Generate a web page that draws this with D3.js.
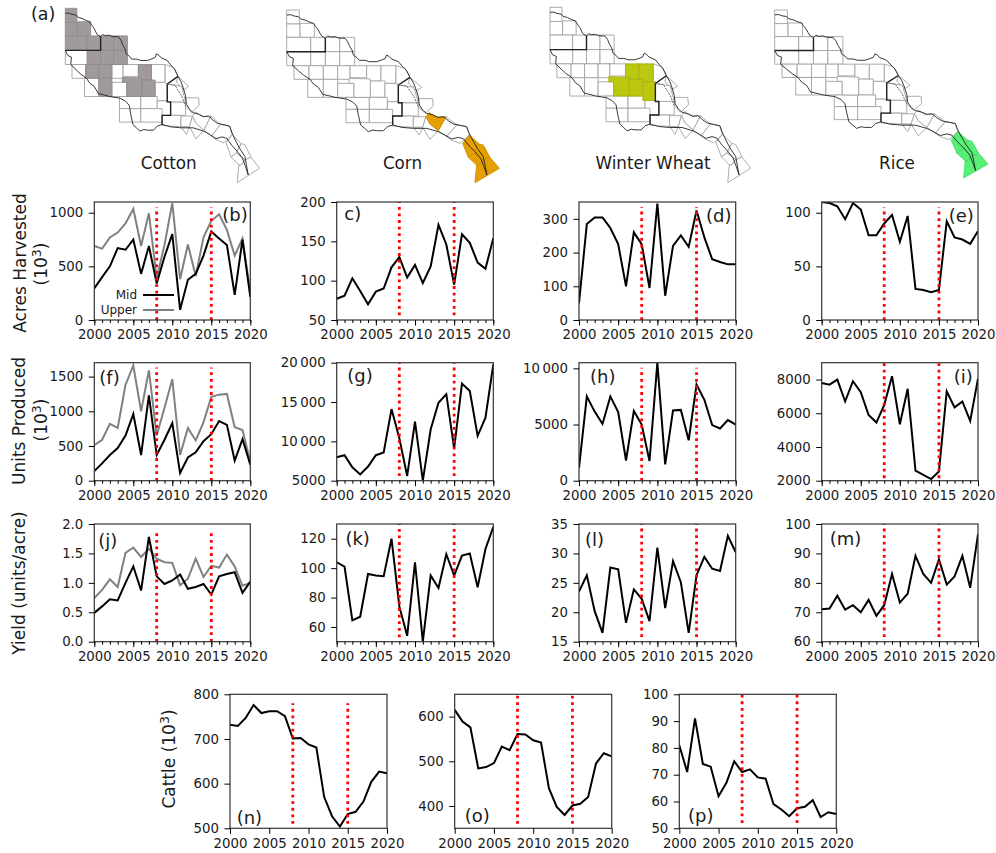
<!DOCTYPE html>
<html>
<head>
<meta charset="utf-8">
<script src="https://cdn.jsdelivr.net/npm/d3@7"></script>
<style>
  html, body { margin: 0; padding: 0; background: #fff; }
  svg { display: block; }
  text { font-family: "DejaVu Sans", sans-serif; fill: #1a1a1a; }
</style>
</head>
<body>
<script>
var years = d3.range(2000, 2021);
var yearTicks = [2000, 2005, 2010, 2015, 2020];
var eventYears = [2008, 2015];

// values
var cottonAcresMid = [295, 400, 500, 670, 655, 750, 430, 690, 340, 590, 800, 95, 375, 430, 600, 825, 760, 700, 235, 750, 215];
var cottonAcresUpper = [690, 665, 770, 815, 900, 1035, 690, 995, 390, 700, 1090, 380, 705, 410, 770, 925, 985, 840, 600, 760, 260];
var cornAcres = [77, 81, 103, 87, 70, 86, 90, 117, 130, 104, 120, 97, 118, 171, 146, 95, 159, 148, 123, 115, 154];
var wheatAcres = [50, 285, 304, 304, 273, 225, 100, 260, 225, 95, 345, 72, 220, 251, 217, 325, 245, 180, 172, 165, 165];
var riceAcres = [110, 109, 106, 94, 109, 103, 79, 79, 90, 98, 73, 97, 29, 28, 26, 28, 92, 77, 75, 71, 83];

var cottonUnitsMid = [140, 250, 370, 470, 650, 960, 370, 1230, 370, 590, 830, 110, 335, 410, 570, 670, 860, 805, 290, 600, 230];
var cottonUnitsUpper = [510, 590, 820, 760, 1380, 1660, 1000, 1590, 650, 1050, 1460, 370, 760, 580, 840, 1210, 1240, 1250, 770, 730, 270];
var cornUnits = [7980, 8240, 6700, 5800, 6800, 8240, 8580, 14100, 10400, 5600, 12500, 5000, 11500, 14900, 16000, 9100, 17350, 16400, 10700, 13000, 19800];
var wheatUnits = [1150, 7500, 6150, 5050, 7500, 6100, 1800, 6200, 5000, 1750, 10500, 1450, 6250, 6300, 3600, 8550, 7200, 4950, 4650, 5400, 5000];
var riceUnits = [7800, 7700, 8000, 6700, 7900, 7250, 5900, 5450, 6500, 8200, 5350, 7450, 2600, 2350, 2100, 2550, 7300, 6350, 6700, 5550, 8050];

var cottonYieldMid = [0.49, 0.6, 0.72, 0.7, 1.0, 1.28, 0.87, 1.78, 1.11, 0.98, 1.04, 1.14, 0.9, 0.93, 0.98, 0.8, 1.11, 1.15, 1.18, 0.83, 1.02];
var cottonYieldUpper = [0.74, 0.88, 1.06, 0.93, 1.51, 1.6, 1.44, 1.58, 1.41, 1.35, 1.34, 0.96, 1.07, 1.41, 1.1, 1.29, 1.26, 1.48, 1.28, 0.95, 1.0];
var cornYield = [104, 101, 64.5, 67, 96, 95, 94.5, 120, 74, 54, 104, 50, 95, 86.5, 109.5, 95, 108.5, 110, 87, 113, 128];
var wheatYield = [23.5, 26.3, 20.2, 16.5, 27.6, 27.3, 18.2, 23.9, 22.3, 18.5, 31, 20.7, 28.7, 25.1, 16.5, 26.3, 29.4, 27.4, 27, 33, 30.2];
var riceYield = [71, 71.3, 75.6, 70.9, 72.4, 70, 74.2, 68.8, 72.4, 83, 73.3, 76.3, 89.2, 83, 80, 88, 79.4, 82.2, 89.2, 78.3, 96.5];

var cattleN = [732, 729, 747, 776, 758, 762, 762, 751, 701, 702, 688, 681, 570, 527, 504, 532, 537, 560, 604, 627, 623];
var cattleO = [615, 589, 576, 484, 487, 496, 533, 525, 561, 560, 547, 542, 440, 398, 380, 401, 405, 420, 495, 518, 511];
var cattleP = [81, 71, 91, 74, 73, 62, 67, 75, 71, 72, 69, 68.5, 59, 57, 54.5, 57.5, 58, 60.5, 54.2, 56, 55.3];

// county outlines, map units
var mapRects = [
  [50, 30, 88, 72], [50, 72, 90, 112], [90, 70, 133, 112],
  [50, 112, 122, 155], [122, 112, 166, 155], [166, 112, 209, 155], [209, 112, 254, 155],
  [50, 155, 122, 197], [122, 155, 166, 197], [166, 155, 209, 197], [209, 155, 254, 197],
  [72, 197, 117, 238], [117, 197, 160, 238], [160, 197, 203, 238], [203, 197, 240, 238],
  [240, 197, 290, 233], [290, 197, 333, 243], [333, 197, 378, 250],
  [113, 238, 160, 292], [160, 238, 203, 292], [203, 250, 252, 292], [301, 243, 345, 292], [345, 250, 385, 305],
  [228, 292, 298, 328], [298, 292, 352, 328], [352, 305, 396, 348],
  [228, 328, 298, 368], [298, 328, 368, 368], [396, 308, 445, 348]
];
var mapPolys = [
  [[237, 235], [301, 237], [301, 292], [252, 292], [252, 250], [237, 250]],
  [[378, 197], [405, 205], [420, 232], [385, 255], [378, 250]],
  [[420, 232], [455, 262], [440, 272], [415, 250]],
  [[385, 255], [432, 262], [445, 308], [385, 308]],
  [[445, 296], [488, 296], [490, 318], [465, 340], [445, 320]],
  [[368, 348], [430, 348], [430, 382], [368, 378]],
  [[430, 350], [468, 350], [458, 382], [430, 382]],
  [[430, 382], [458, 382], [448, 405]],
  [[458, 382], [468, 350], [480, 372], [505, 392], [480, 418]],
  [[505, 392], [528, 350], [560, 375], [530, 410]],
  [[530, 410], [560, 375], [590, 380], [598, 405], [570, 430], [545, 420]],
  [[468, 350], [478, 338], [500, 352], [528, 350], [505, 392], [480, 372]],
  [[578, 430], [598, 405], [628, 432], [612, 460], [595, 472]],
  [[628, 432], [640, 435], [660, 472], [640, 480], [612, 460]],
  [[595, 472], [612, 460], [640, 480], [628, 495], [620, 495]],
  [[620, 495], [628, 495], [640, 480], [660, 472], [688, 505], [615, 548]]
];
var boundaryNorth = [[50, 45], [62, 44], [72, 48], [85, 50], [92, 57], [105, 60], [118, 66], [130, 70], [137, 80], [145, 90], [150, 100], [155, 108], [166, 115], [173, 108], [182, 111], [195, 110], [205, 114], [225, 115], [233, 125], [238, 137], [246, 150], [250, 165], [260, 172], [268, 181], [285, 181], [298, 185], [320, 185], [335, 180], [345, 176], [350, 165], [358, 170], [365, 177], [385, 185], [398, 200], [410, 212], [420, 232], [430, 248], [437, 265], [445, 290], [448, 315], [458, 330], [470, 340], [490, 345], [505, 352], [520, 350], [535, 362], [550, 372], [572, 376], [590, 380], [597, 398], [605, 415], [622, 445], [640, 470], [645, 495], [651, 525]];
var boundarySouth = [[50, 155], [58, 170], [70, 175], [68, 197], [85, 212], [100, 225], [120, 238], [130, 252], [145, 262], [158, 283], [180, 288], [195, 292], [230, 297], [248, 306], [260, 318], [265, 345], [272, 375], [283, 384], [295, 395], [308, 390], [320, 392], [340, 392], [352, 380], [368, 375], [395, 382], [430, 385], [470, 385], [505, 395], [525, 405], [545, 417], [565, 412], [580, 416], [598, 438], [615, 455], [632, 475], [642, 500], [651, 525]];
var reachUpper = [[50, 155], [166, 155], [166, 115]];
var reachLower = [[420, 232], [385, 255], [385, 308], [396, 308], [396, 348], [368, 348], [368, 375]];
var reachBranch = [[385, 255], [410, 258], [432, 290], [445, 320]];

var cropNames = ["Cotton", "Corn", "Winter Wheat", "Rice"];
var cropColors = ["#A09A9B", "#E69F00", "#BCC70F", "#55F075"];
var cottonRects = [0, 1, 2, 3, 4, 5, 6, 8, 9, 10, 12, 13, 16, 19, 21];
var cottonPolys = [0];
var cornRects = [];
var cornPolys = [11, 12, 13, 14, 15];
var wheatRects = [16, 17, 21, 22];
var wheatPolys = [0];
var riceRects = [];
var ricePolys = [12, 13, 14, 15];

var W = 996, H = 853;
var svg = d3.select("body").append("svg").attr("width", W).attr("height", H);
var lineGen = d3.line();

function drawMap(box, crop, rects, polys, labelX) {
  var mx = d3.scaleLinear().domain([50, 688]).range([box[0], box[1]]);
  var my = d3.scaleLinear().domain([30, 548]).range([box[2], box[3]]);
  var g = svg.append("g");
  function toPath(pts) {
    return lineGen(pts.map(function (p) { return [mx(p[0]), my(p[1])]; }));
  }
  function rectPts(r) {
    return [[r[0], r[1]], [r[2], r[1]], [r[2], r[3]], [r[0], r[3]]];
  }
  var cells = mapRects.map(function (r, i) { return { pts: rectPts(r), on: rects.indexOf(i) >= 0 }; })
    .concat(mapPolys.map(function (p, i) { return { pts: p, on: polys.indexOf(i) >= 0 }; }));
  cells.sort(function (a, b) { return a.on - b.on; });
  g.selectAll("path.cell").data(cells).enter().append("path")
    .attr("class", "cell")
    .attr("d", function (d) { return toPath(d.pts) + "Z"; })
    .attr("fill", function (d) { return d.on ? cropColors[crop] : "#fff"; })
    .attr("stroke", function (d) { return d.on ? d3.color(cropColors[crop]).darker(0.3) : "#a3a3a3"; })
    .attr("stroke-width", 0.9);
  [boundaryNorth, boundarySouth].forEach(function (b) {
    g.append("path").attr("d", toPath(b)).attr("fill", "none").attr("stroke", "#222").attr("stroke-width", 0.9);
  });
  [reachUpper, reachLower].forEach(function (b) {
    g.append("path").attr("d", toPath(b)).attr("fill", "none").attr("stroke", "#222").attr("stroke-width", 1.4);
  });
  g.append("path").attr("d", toPath(reachBranch)).attr("fill", "none").attr("stroke", "#666")
    .attr("stroke-width", 1).attr("stroke-dasharray", "2,1");
  svg.append("text").attr("x", labelX).attr("y", 169).attr("text-anchor", "middle")
    .style("font-size", "16.8px").text(cropNames[crop]);
}

drawMap([65.3, 259.5, 8.3, 182.7], 0, cottonRects, cottonPolys, 168.7);
drawMap([286.7, 499.3, 10, 182.7], 1, cornRects, cornPolys, 402.5);
drawMap([550, 750.7, 7.3, 182.7], 2, wheatRects, wheatPolys, 653);
drawMap([774.7, 988, 10, 178], 3, riceRects, ricePolys, 897);

svg.append("text").attr("x", 31).attr("y", 20).style("font-size", "17.5px").text("(a)");

var colX = [[94.3, 250.3], [336.7, 493.3], [579, 735.7], [821.7, 978]];
var rowY = [[202, 320], [362.7, 480.7], [524, 641.7]];
var lastColX = [[230, 387], [454.7, 611.7], [679.3, 836.3]];
var lastRowY = [694.3, 828.3];

var clipId = 0;
function fmtThin(v) {
  return v >= 10000 ? d3.format("d")(Math.floor(v / 1000)) + "\u2009" + d3.format("03d")(v % 1000) : String(v);
}

function panel(p) {
  var x = d3.scaleLinear().domain([2000, 2020]).range(p.xr);
  var y = d3.scaleLinear().domain(p.dom).range([p.yr[1], p.yr[0]]);
  var g = svg.append("g");
  var id = "clip" + (clipId++);
  g.append("clipPath").attr("id", id).append("rect")
    .attr("x", p.xr[0]).attr("y", p.yr[0])
    .attr("width", p.xr[1] - p.xr[0]).attr("height", p.yr[1] - p.yr[0]);

  var line = d3.line().x(function (d, i) { return x(years[i]); }).y(function (d) { return y(d); });
  var plot = g.append("g").attr("clip-path", "url(#" + id + ")");
  if (p.upper) {
    plot.append("path").attr("d", line(p.upper)).attr("fill", "none")
      .attr("stroke", "#808080").attr("stroke-width", 2);
  }
  plot.append("path").attr("d", line(p.mid)).attr("fill", "none")
    .attr("stroke", "#000").attr("stroke-width", 2);
  plot.selectAll("line.ev").data(eventYears).enter().append("line")
    .attr("class", "ev")
    .attr("x1", function (d) { return x(d); }).attr("x2", function (d) { return x(d); })
    .attr("y1", y(p.span[0])).attr("y2", y(p.span[1]))
    .attr("stroke", "#ff0000").attr("stroke-width", 2.8).attr("stroke-dasharray", "2.8,3.8");

  // spines
  g.append("rect").attr("x", p.xr[0]).attr("y", p.yr[0])
    .attr("width", p.xr[1] - p.xr[0]).attr("height", p.yr[1] - p.yr[0])
    .attr("fill", "none").attr("stroke", "#333").attr("stroke-width", 1.2);

  var ax = g.append("g").attr("transform", "translate(0," + p.yr[1] + ")")
    .call(d3.axisBottom(x).tickValues(yearTicks).tickFormat(d3.format("d")).tickSize(5.5).tickPadding(4.5));
  ax.select(".domain").remove();
  ax.selectAll("text").style("font-size", "13.3px").attr("fill", "#1a1a1a");
  if (p.minor) {
    var mn = g.append("g").attr("transform", "translate(0," + p.yr[1] + ")")
      .call(d3.axisBottom(x).tickValues(years).tickFormat("").tickSize(3));
    mn.select(".domain").remove();
  }

  var ay = g.append("g").attr("transform", "translate(" + p.xr[0] + ",0)")
    .call(d3.axisLeft(y).tickValues(p.ticks).tickFormat(p.fmt || fmtThin).tickSize(5.5).tickPadding(5.5));
  ay.select(".domain").remove();
  ay.selectAll("text").style("font-size", "13.3px").attr("fill", "#1a1a1a");

  g.append("text").attr("x", p.xr[0] + p.lab[1]).attr("y", p.yr[0] + p.lab[2])
    .style("font-size", "18px").text(p.lab[0]);
}

var fmt1 = d3.format(".1f");

panel({ xr: colX[0], yr: rowY[0], dom: [0, 1100], ticks: [0, 500, 1000], mid: cottonAcresMid, upper: cottonAcresUpper, span: [0, 1050], lab: ["(b)", 128, 19], minor: true });
panel({ xr: colX[1], yr: rowY[0], dom: [50, 200], ticks: [50, 100, 150, 200], mid: cornAcres, span: [56, 200], lab: ["c)", 7.6, 18], minor: true });
panel({ xr: colX[2], yr: rowY[0], dom: [0, 350], ticks: [0, 100, 200, 300], mid: wheatAcres, span: [0, 335], lab: ["(d)", 127, 20], minor: true });
panel({ xr: colX[3], yr: rowY[0], dom: [0, 110], ticks: [0, 50, 100], mid: riceAcres, span: [0, 105], lab: ["(e)", 127, 20], minor: true });

panel({ xr: colX[0], yr: rowY[1], dom: [0, 1700], ticks: [0, 500, 1000, 1500], mid: cottonUnitsMid, upper: cottonUnitsUpper, span: [0, 1630], lab: ["(f)", 5, 21], minor: true });
panel({ xr: colX[1], yr: rowY[1], dom: [5000, 20000], ticks: [5000, 10000, 15000, 20000], mid: cornUnits, span: [5600, 20000], lab: ["(g)", 10.6, 19], minor: true });
panel({ xr: colX[2], yr: rowY[1], dom: [0, 10500], ticks: [0, 5000, 10000], mid: wheatUnits, span: [0, 10050], lab: ["(h)", 11, 20], minor: true });
panel({ xr: colX[3], yr: rowY[1], dom: [2000, 9000], ticks: [2000, 4000, 6000, 8000], mid: riceUnits, span: [2150, 9000], lab: ["(i)", 132, 20], minor: true });

panel({ xr: colX[0], yr: rowY[2], dom: [0, 2], ticks: [0, 0.5, 1, 1.5, 2], fmt: fmt1, mid: cottonYieldMid, upper: cottonYieldUpper, span: [0, 1.9], lab: ["(j)", 4, 23], minor: true });
panel({ xr: colX[1], yr: rowY[2], dom: [50, 130], ticks: [60, 80, 100, 120], mid: cornYield, span: [53, 130], lab: ["(k)", 8.7, 21], minor: true });
panel({ xr: colX[2], yr: rowY[2], dom: [15, 35], ticks: [15, 20, 25, 30, 35], mid: wheatYield, span: [15.8, 35], lab: ["(l)", 6, 22], minor: true });
panel({ xr: colX[3], yr: rowY[2], dom: [60, 100], ticks: [60, 70, 80, 90, 100], mid: riceYield, span: [61.6, 100], lab: ["(m)", 8, 21], minor: true });

panel({ xr: lastColX[0], yr: lastRowY, dom: [500, 800], ticks: [500, 600, 700, 800], mid: cattleN, span: [510, 780], lab: ["(n)", 6.7, 130] });
panel({ xr: lastColX[1], yr: lastRowY, dom: [350, 650], ticks: [400, 500, 600], mid: cattleO, span: [360, 650], lab: ["(o)", 10, 128] });
panel({ xr: lastColX[2], yr: lastRowY, dom: [50, 100], ticks: [50, 60, 70, 80, 90, 100], mid: cattleP, span: [52, 100], lab: ["(p)", 8.7, 128] });

// axis titles
function vText(cx, cy, size) {
  return svg.append("text").attr("transform", "translate(" + cx + "," + cy + ") rotate(-90)")
    .attr("text-anchor", "middle").style("font-size", size + "px");
}
function addPow(t) {
  t.append("tspan").text("(10");
  t.append("tspan").attr("dy", -6.5).style("font-size", "12.5px").text("3");
  t.append("tspan").attr("dy", 6.5).text(")");
}
vText(26, 263, 17).text("Acres Harvested");
addPow(vText(47, 264, 17));
vText(25, 421, 17).text("Units Produced");
addPow(vText(47, 420, 17));
vText(25, 583, 17).text("Yield (units/acre)");
addPow(vText(175, 759, 17).text("Cattle "));

// legend in (b)
var legendRows = [["Mid", "#000", 295], ["Upper", "#808080", 310]];
svg.selectAll("text.leg").data(legendRows).enter().append("text")
  .attr("class", "leg").attr("x", 137).attr("y", function (d) { return d[2] + 4; })
  .attr("text-anchor", "end").style("font-size", "12px").text(function (d) { return d[0]; });
svg.selectAll("line.leg").data(legendRows).enter().append("line")
  .attr("class", "leg").attr("x1", 143).attr("x2", 174)
  .attr("y1", function (d) { return d[2]; }).attr("y2", function (d) { return d[2]; })
  .attr("stroke", function (d) { return d[1]; }).attr("stroke-width", 2);
</script>
</body>
</html>
